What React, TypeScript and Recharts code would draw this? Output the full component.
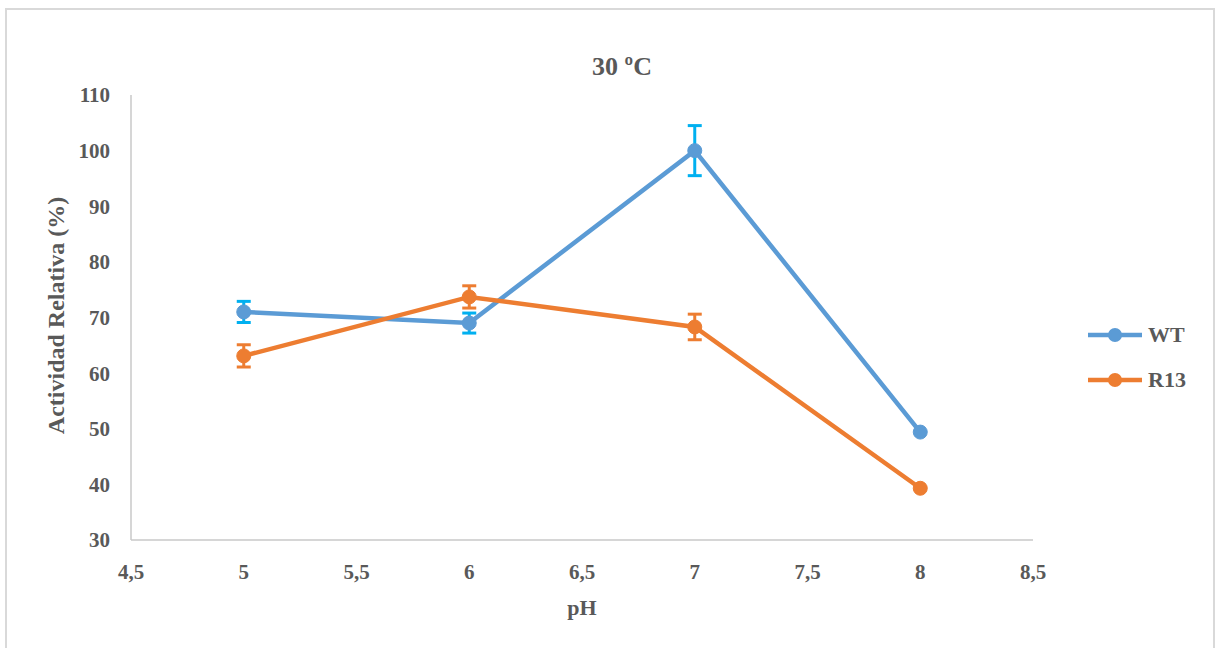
import React from 'react';
import { LineChart, Line, XAxis, YAxis, ErrorBar, Label } from 'recharts';

const phValues = [5, 6, 7, 8];
const wtValues = [71, 69, 100, 49.4];
const wtErrors = [1.9, 1.8, 4.5, null];
const r13Values = [63.1, 73.7, 68.3, 39.3];
const r13Errors = [2.0, 2.0, 2.3, null];
const xTicks = [4.5, 5, 5.5, 6, 6.5, 7, 7.5, 8, 8.5];
const yTicks = [30, 40, 50, 60, 70, 80, 90, 100, 110];
const seriesNames = ['WT', 'R13'];
const seriesColors = ['#5B9BD5', '#ED7D31'];
const errorColors = ['#00B0F0', '#ED7D31'];
const titleText = '30 ºC';
const xTitle = 'pH';
const yTitle = 'Actividad Relativa (%)';

const data = phValues.map((ph, i) => ({
  ph,
  wt: wtValues[i],
  wtErr: wtErrors[i],
  r13: r13Values[i],
  r13Err: r13Errors[i],
}));

const FONT = '"Liberation Serif", "Times New Roman", Times, serif';
const TXT = '#595959';

export default function App() {
  const tickStyle = { fontFamily: FONT, fontWeight: 700, fontSize: 21, fill: TXT };
  return (
    <div>
      <div
        style={{
          position: 'absolute',
          left: 5,
          top: 8,
          width: 1210,
          height: 660,
          border: '2px solid #d9d9d9',
          boxSizing: 'border-box',
          background: '#fff',
        }}
      />
      <div
        style={{
          position: 'absolute',
          left: 522,
          top: 54,
          width: 200,
          textAlign: 'center',
          fontFamily: FONT,
          fontWeight: 700,
          fontSize: 26,
          lineHeight: '26px',
          color: TXT,
        }}
      >
        {titleText}
      </div>
      <div style={{ position: 'absolute', left: 0, top: 0 }}>
        <LineChart
          width={1215}
          height={648}
          data={data}
          margin={{ top: 95, right: 182, bottom: 48, left: 51 }}
        >
          <XAxis
            dataKey="ph"
            type="number"
            domain={[4.5, 8.5]}
            ticks={xTicks}
            tickFormatter={(v: number) => String(v).replace('.', ',')}
            tick={tickStyle}
            tickLine={false}
            tickSize={0}
            tickMargin={24}
            axisLine={{ stroke: '#c8c8c8', strokeWidth: 1.5 }}
            height={60}
            interval={0}
            allowDataOverflow
          >
            <Label
              content={(props: any) => {
                const vb = props.viewBox || {};
                const cx = vb.x + vb.width / 2;
                return (
                  <text
                    x={cx}
                    y={607}
                    textAnchor="middle"
                    dominantBaseline="central"
                    style={{ fontFamily: FONT, fontWeight: 700, fontSize: 22, fill: TXT }}
                  >
                    {xTitle}
                  </text>
                );
              }}
            />
          </XAxis>
          <YAxis
            type="number"
            domain={[30, 110]}
            ticks={yTicks}
            tick={tickStyle}
            tickLine={false}
            tickSize={0}
            tickMargin={21}
            axisLine={{ stroke: '#c8c8c8', strokeWidth: 1.5 }}
            width={80}
            interval={0}
            allowDataOverflow
          >
            <Label
              content={(props: any) => {
                const vb = props.viewBox || {};
                const cy = vb.y + vb.height / 2 - 2;
                return (
                  <text
                    x={56}
                    y={cy}
                    transform={`rotate(-90, 56, ${cy})`}
                    textAnchor="middle"
                    dominantBaseline="central"
                    style={{ fontFamily: FONT, fontWeight: 700, fontSize: 24, fill: TXT }}
                  >
                    {yTitle}
                  </text>
                );
              }}
            />
          </YAxis>
          <Line
            type="linear"
            dataKey="wt"
            name={seriesNames[0]}
            stroke={seriesColors[0]}
            strokeWidth={4.5}
            dot={{ r: 7, fill: seriesColors[0], stroke: seriesColors[0], strokeWidth: 1 }}
            isAnimationActive={false}
          >
            <ErrorBar dataKey="wtErr" width={7} stroke={errorColors[0]} strokeWidth={3} direction="y" />
          </Line>
          <Line
            type="linear"
            dataKey="r13"
            name={seriesNames[1]}
            stroke={seriesColors[1]}
            strokeWidth={4.5}
            dot={{ r: 7, fill: seriesColors[1], stroke: seriesColors[1], strokeWidth: 1 }}
            isAnimationActive={false}
          >
            <ErrorBar dataKey="r13Err" width={7} stroke={errorColors[1]} strokeWidth={3} direction="y" />
          </Line>
        </LineChart>
      </div>
      <div style={{ position: 'absolute', left: 1086, top: 322 }}>
        {seriesNames.map((name, i) => (
          <div
            key={name}
            style={{ display: 'flex', alignItems: 'center', height: 26, marginBottom: i === 0 ? 19 : 0 }}
          >
            <svg width={58} height={20} style={{ display: 'block' }}>
              <line x1={2} y1={10} x2={56} y2={10} stroke={seriesColors[i]} strokeWidth={4.5} />
              <circle cx={29} cy={10} r={7} fill={seriesColors[i]} />
            </svg>
            <span
              style={{
                marginLeft: 4,
                fontFamily: FONT,
                fontWeight: 700,
                fontSize: 22,
                color: TXT,
                lineHeight: '26px',
              }}
            >
              {name}
            </span>
          </div>
        ))}
      </div>
    </div>
  );
}
